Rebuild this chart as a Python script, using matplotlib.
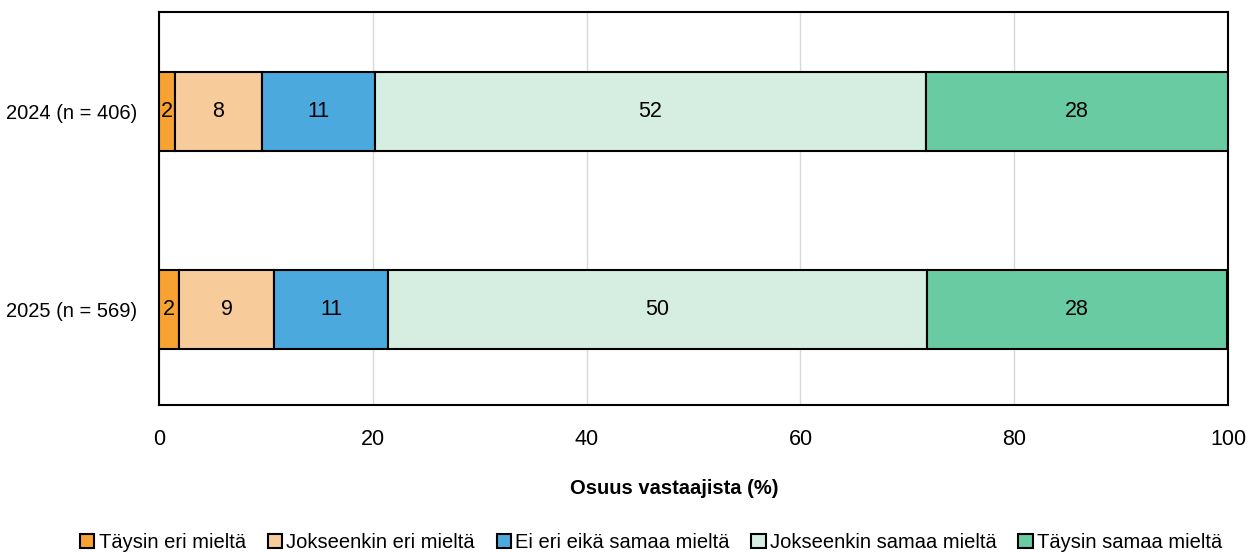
import matplotlib.pyplot as plt
import matplotlib as mpl

mpl.rcParams['font.family'] = ['Liberation Sans', 'DejaVu Sans']

years = ["2024 (n = 406)", "2025 (n = 569)"]
categories = ["Täysin eri mieltä", "Jokseenkin eri mieltä", "Ei eri eikä samaa mieltä",
              "Jokseenkin samaa mieltä", "Täysin samaa mieltä"]
values_2024 = [1.5, 8.1, 10.6, 51.5, 28.3]
values_2025 = [1.9, 8.9, 10.6, 50.4, 28.1]
colors = ["#F7A233", "#F8CB9B", "#4BA9DE", "#D5EEE1", "#69CBA1"]

fs = 14.5

fig = plt.figure(figsize=(12.57, 5.52), dpi=100)
ax = fig.add_axes([0.1265, 0.2663, 0.8505, 0.7117])

rows = [values_2024, values_2025]
ypos = [1, 0]
handles = []
for j, cat in enumerate(categories):
    for r, y in zip(rows, ypos):
        left = sum(r[:j])
        b = ax.barh(y, r[j], left=left, height=0.4, color=colors[j],
                    edgecolor='black', linewidth=1.5, zorder=3)
        ax.text(left + r[j] / 2, y, f"{r[j]:.0f}", ha='center', va='center',
                fontsize=fs + 1, zorder=4)
    handles.append(b)

ax.set_xlim(0, 100)
ax.set_ylim(-0.48, 1.5)
ax.set_xticks(range(0, 101, 20))
ax.set_yticks(ypos)
ax.set_yticklabels(years)
ax.tick_params(length=0, labelsize=fs, pad=16)
ax.tick_params(axis='x', labelsize=fs + 1, pad=17)
ax.grid(axis='x', color='#D9D9D9', linewidth=1, zorder=0)
for s in ax.spines.values():
    s.set_linewidth(1.5)

fig.text(0.536, 0.115, "Osuus vastaajista (%)", ha='center', va='center',
         fontsize=fs, fontweight='bold')

fig.legend(handles, categories, loc='lower center', bbox_to_anchor=(0.518, -0.033),
           ncol=5, frameon=False, fontsize=fs, handlelength=0.7, handleheight=0.7,
           handletextpad=0.2, columnspacing=1.1)

plt.savefig("out.png", dpi=100)
